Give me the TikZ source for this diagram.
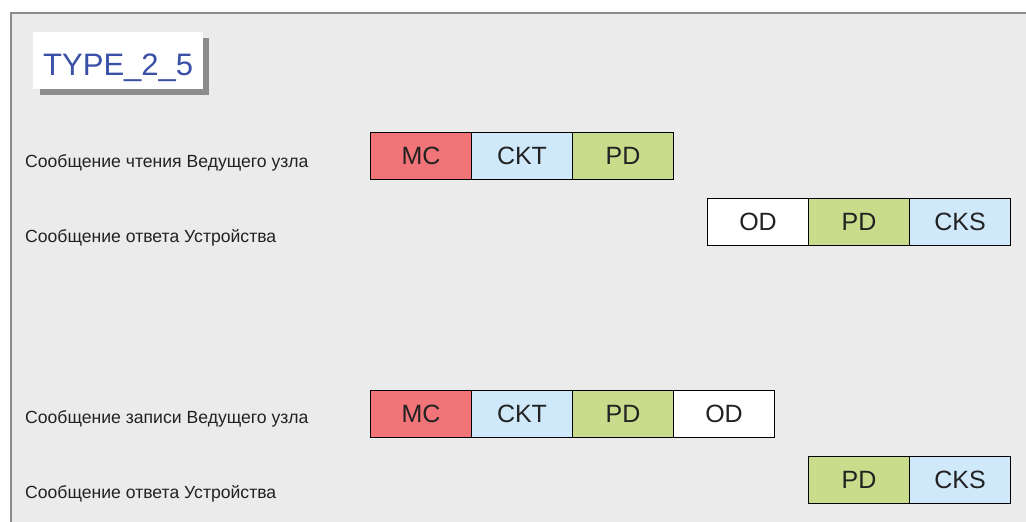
\documentclass[tikz,border=0pt]{standalone}
\usepackage{fontspec}
\setmainfont{Liberation Sans}
\setsansfont{Liberation Sans}
\definecolor{panel}{HTML}{EBEBEB}
\definecolor{frame}{HTML}{8C8C8C}
\definecolor{mcred}{HTML}{F07478}
\definecolor{ckblue}{HTML}{CFE9FA}
\definecolor{pdgreen}{HTML}{C9DC8C}
\definecolor{titleblue}{HTML}{3A4FA6}
\definecolor{txt}{HTML}{222222}
\begin{document}
\begin{tikzpicture}[x=1pt,y=-1pt,
  field/.style={draw=black, line width=1pt, minimum width=101pt, minimum height=47pt,
    inner sep=0pt, anchor=north west, text=txt, font=\fontsize{25}{25}\selectfont},
  mc/.style={field, fill=mcred},
  ckt/.style={field, fill=ckblue},
  pd/.style={field, fill=pdgreen},
  od/.style={field, fill=white},
  lbl/.style={anchor=west, inner sep=0pt, text=txt, font=\fontsize{17.6}{17.6}\selectfont}]
\useasboundingbox (0,0) rectangle (1026,522);
\fill[white] (0,0) rectangle (1026,522);
\fill[panel] (11,13) rectangle (1026,522);
\draw[frame, line width=1.5pt] (11,522) -- (11,13) -- (1026,13);
% title
\fill[frame] (40,38) rectangle (209,95);
\node[fill=white, anchor=north west, minimum width=170pt, minimum height=57pt, inner sep=0pt,
  text=titleblue, font=\fontsize{31}{31}\selectfont, text height=30pt, text depth=0pt] (title) at (33,32) {TYPE\_2\_5};
% labels
\node[lbl] (l1) at (25,163) {Сообщение чтения Ведущего узла};
\node[lbl] (l2) at (25,238) {Сообщение ответа Устройства};
\node[lbl] (l3) at (25,419) {Сообщение записи Ведущего узла};
\node[lbl] (l4) at (25,494) {Сообщение ответа Устройства};
% row 1
\node[mc]  (r1a) at (370,132) {MC};
\node[ckt] (r1b) at (471,132) {CKT};
\node[pd]  (r1c) at (572,132) {PD};
% row 2
\node[od]  (r2a) at (707,198) {OD};
\node[pd]  (r2b) at (808,198) {PD};
\node[ckt] (r2c) at (909,198) {CKS};
% row 3
\node[mc]  (r3a) at (370,390) {MC};
\node[ckt] (r3b) at (471,390) {CKT};
\node[pd]  (r3c) at (572,390) {PD};
\node[od]  (r3d) at (673,390) {OD};
% row 4
\node[pd]  (r4a) at (808,456) {PD};
\node[ckt] (r4b) at (909,456) {CKS};
\end{tikzpicture}
\end{document}
